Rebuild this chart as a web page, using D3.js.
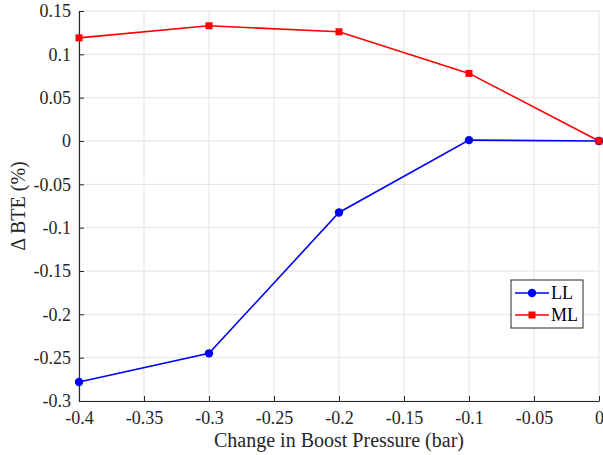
<!DOCTYPE html>
<html>
<head>
<meta charset="utf-8">
<script src="https://cdn.jsdelivr.net/npm/d3@7"></script>
<style>
  html, body { margin: 0; padding: 0; background: #fff; }
  svg { display: block; }
</style>
</head>
<body>
<svg id="chart" width="603" height="455"></svg>
<script>
// Boost pressure change (bar)
const boost = [-0.4, -0.3, -0.2, -0.1, 0];
// Change in brake thermal efficiency (%) per load case
const llValues = [-0.278, -0.245, -0.0825, 0.001, 0];
const mlValues = [0.119, 0.133, 0.126, 0.078, 0];
const xTicks = [-0.4, -0.35, -0.3, -0.25, -0.2, -0.15, -0.1, -0.05, 0];
const yTicks = [-0.3, -0.25, -0.2, -0.15, -0.1, -0.05, 0, 0.05, 0.1, 0.15];
const seriesNames = ["LL", "ML"];
const seriesColors = ["#0000ff", "#ff0000"];

const FONT = "Liberation Serif";
const svg = d3.select("#chart");
const m = { left: 79, right: 4, top: 11, bottom: 54 };
const W = 603, H = 455;
const x = d3.scaleLinear().domain([-0.4, 0]).range([m.left, W - m.right]);
const y = d3.scaleLinear().domain([-0.3, 0.15]).range([H - m.bottom, m.top]);

const fmt = v => (v === 0 ? "0" : String(+v.toFixed(2)));

// grid
const grid = svg.append("g").attr("stroke", "#e3e3e3").attr("stroke-width", 1);
xTicks.forEach(t => grid.append("line")
  .attr("x1", x(t)).attr("x2", x(t)).attr("y1", y(-0.3)).attr("y2", y(0.15)));
yTicks.forEach(t => grid.append("line")
  .attr("x1", x(-0.4)).attr("x2", x(0)).attr("y1", y(t)).attr("y2", y(t)));

// axes
const axisColor = "#262626";
const xAxis = svg.append("g")
  .attr("transform", `translate(0,${y(-0.3)})`)
  .call(d3.axisBottom(x).tickValues(xTicks).tickFormat(fmt).tickSizeInner(-5).tickSizeOuter(0).tickPadding(10));
const yAxis = svg.append("g")
  .attr("transform", `translate(${x(-0.4)},0)`)
  .call(d3.axisLeft(y).tickValues(yTicks).tickFormat(fmt).tickSizeInner(-5).tickSizeOuter(0).tickPadding(8));
[xAxis, yAxis].forEach(a => {
  a.attr("font-family", null).attr("font-size", null);
  a.select(".domain").attr("stroke", axisColor).attr("stroke-width", 1.2);
  a.selectAll(".tick line").attr("stroke", axisColor);
  a.selectAll(".tick text").attr("fill", axisColor)
    .style("font-family", FONT).style("font-size", "18px");
});
// MATLAB-style labels drop the leading space before the tick
yAxis.selectAll(".tick text").attr("x", -8);

// axis titles
svg.append("text")
  .attr("x", (x(-0.4) + x(0)) / 2).attr("y", 447)
  .attr("text-anchor", "middle").attr("fill", axisColor)
  .style("font-family", FONT).style("font-size", "20px")
  .text("Change in Boost Pressure (bar)");
svg.append("text")
  .attr("transform", `translate(25,${(y(-0.3) + y(0.15)) / 2}) rotate(-90)`)
  .attr("text-anchor", "middle").attr("fill", axisColor)
  .style("font-family", FONT).style("font-size", "20px")
  .text("Δ BTE (%)");

// series
const line = d3.line().x((d, i) => x(boost[i])).y(d => y(d));
const plot = svg.append("g");
[llValues, mlValues].forEach((vals, k) => {
  plot.append("path").datum(vals)
    .attr("d", line).attr("fill", "none")
    .attr("stroke", seriesColors[k]).attr("stroke-width", 1.6);
});
// markers: circles for LL, squares for ML
plot.selectAll(".ll").data(llValues).enter().append("circle")
  .attr("cx", (d, i) => x(boost[i])).attr("cy", d => y(d)).attr("r", 4.2)
  .attr("fill", seriesColors[0]);
plot.selectAll(".ml").data(mlValues).enter().append("rect")
  .attr("x", (d, i) => x(boost[i]) - 3.5).attr("y", d => y(d) - 3.5)
  .attr("width", 7).attr("height", 7)
  .attr("fill", seriesColors[1]);

// legend
const lg = svg.append("g").attr("transform", "translate(511,280)");
lg.append("rect").attr("width", 72).attr("height", 48)
  .attr("fill", "#fff").attr("stroke", "#262626").attr("stroke-width", 1);
seriesNames.forEach((name, k) => {
  const cy = 13 + k * 22;
  lg.append("line").attr("x1", 4).attr("x2", 38).attr("y1", cy).attr("y2", cy)
    .attr("stroke", seriesColors[k]).attr("stroke-width", 1.6);
  if (k === 0) {
    lg.append("circle").attr("cx", 21).attr("cy", cy).attr("r", 4.2).attr("fill", seriesColors[k]);
  } else {
    lg.append("rect").attr("x", 17.5).attr("y", cy - 3.5).attr("width", 7).attr("height", 7).attr("fill", seriesColors[k]);
  }
  lg.append("text").attr("x", 40).attr("y", cy + 6)
    .attr("fill", "#000").style("font-family", FONT).style("font-size", "18px").text(name);
});
</script>
</body>
</html>
